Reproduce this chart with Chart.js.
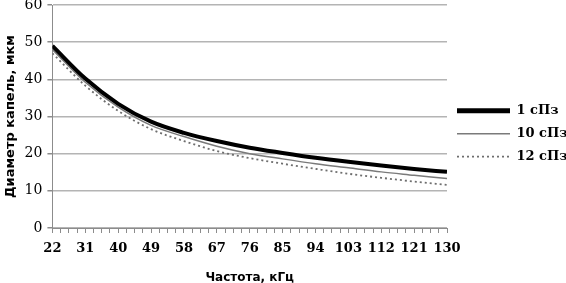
<!DOCTYPE html>
<html>
<head>
<meta charset="utf-8">
<script src="https://cdn.jsdelivr.net/npm/chart.js@4.4.1/dist/chart.umd.min.js"></script>
<style>
  html, body { margin: 0; padding: 0; background: #fff; }
  #wrap { width: 566px; height: 283px; }
</style>
</head>
<body>
<div id="wrap"><canvas id="dropChart"></canvas></div>
<script>
// Frequency, kHz (labelled points on the x axis)
const freqs = [22, 31, 40, 49, 58, 67, 76, 85, 94, 103, 112, 121, 130];

// Droplet diameter, um
const visc1 = [49.0, 40.2, 33.4, 28.6, 25.6, 23.4, 21.6, 20.2, 18.9, 17.8, 16.8, 15.9, 15.1];
const visc10 = [48.0, 39.2, 32.5, 27.6, 24.6, 22.0, 20.0, 18.6, 17.3, 16.2, 15.1, 14.2, 13.3];
const visc12 = [47.0, 38.3, 31.5, 26.6, 23.4, 20.7, 18.8, 17.3, 15.9, 14.6, 13.5, 12.5, 11.6];

const seriesNames = ['1 сПз', '10 сПз', '12 сПз'];

// minor tick marks: 4 per labelled interval, like the original axis
const subTicks = 4;

function toPoints(values) {
    return values.map((v, i) => ({ x: freqs[i], y: v }));
}

const ctx = document.getElementById('dropChart').getContext('2d');

new Chart(ctx, {
    type: 'line',
    data: {
        datasets: [
            {
                label: seriesNames[0],
                data: toPoints(visc1),
                borderColor: '#000000',
                borderWidth: 4,
                pointRadius: 0,
                cubicInterpolationMode: 'monotone'
            },
            {
                label: seriesNames[1],
                data: toPoints(visc10),
                borderColor: '#7a7a7a',
                borderWidth: 1.5,
                pointRadius: 0,
                cubicInterpolationMode: 'monotone'
            },
            {
                label: seriesNames[2],
                data: toPoints(visc12),
                borderColor: '#6e6e6e',
                borderWidth: 1.8,
                borderDash: [2, 3],
                pointRadius: 0,
                cubicInterpolationMode: 'monotone'
            }
        ]
    },
    options: {
        responsive: true,
        maintainAspectRatio: false,
        animation: false,
        layout: { padding: { left: 3, top: 1, right: 0, bottom: 0 } },
        plugins: {
            tooltip: { enabled: false },
            legend: {
                position: 'right',
                fullSize: false,
                maxWidth: 119,
                // empty title only pushes the entries down a bit
                title: {
                    display: true,
                    text: ' ',
                    padding: 10,
                    font: { size: 12 }
                },
                labels: {
                    usePointStyle: true,
                    pointStyle: 'line',
                    pointStyleWidth: 53,
                    color: '#000',
                    padding: 10,
                    font: { family: 'DejaVu Serif', size: 13, weight: 'bold' },
                    // point style loses the dash, so take it from the dataset
                    generateLabels: (chart) => {
                        const items = Chart.defaults.plugins.legend.labels.generateLabels(chart);
                        items.forEach((item) => {
                            const ds = chart.data.datasets[item.datasetIndex];
                            item.lineDash = ds.borderDash || [];
                            item.lineWidth = ds.borderWidth > 3 ? 5 : ds.borderWidth;
                            item.strokeStyle = ds.borderColor;
                        });
                        return items;
                    }
                }
            }
        },
        scales: {
            x: {
                type: 'linear',
                min: freqs[0],
                max: freqs[freqs.length - 1],
                afterBuildTicks: (scale) => {
                    const ticks = [];
                    for (let i = 0; i < freqs.length; i++) {
                        ticks.push({ value: freqs[i] });
                        if (i < freqs.length - 1) {
                            const step = (freqs[i + 1] - freqs[i]) / subTicks;
                            for (let k = 1; k < subTicks; k++) {
                                ticks.push({ value: freqs[i] + k * step });
                            }
                        }
                    }
                    scale.ticks = ticks;
                },
                ticks: {
                    autoSkip: false,
                    maxRotation: 0,
                    color: '#000',
                    padding: 8,
                    font: { family: 'DejaVu Serif', size: 13, weight: 'bold' },
                    callback: (value) => freqs.includes(value) ? value : ''
                },
                grid: {
                    drawOnChartArea: false,
                    drawTicks: true,
                    tickLength: 5,
                    color: '#8c8c8c'
                },
                border: { display: true, color: '#8c8c8c' },
                title: {
                    display: true,
                    text: 'Частота, кГц',
                    color: '#000',
                    padding: { top: 6, bottom: -2 },
                    font: { family: 'DejaVu Sans', size: 12, weight: 'bold' }
                }
            },
            y: {
                min: 0,
                max: 60,
                ticks: {
                    stepSize: 10,
                    color: '#000',
                    padding: 5,
                    // lineHeight 0 keeps the top label from adding space above the plot
                    font: { family: 'DejaVu Serif', size: 14, lineHeight: 0 }
                },
                grid: {
                    color: '#b4b4b4',
                    lineWidth: 1.5,
                    tickLength: 5,
                    tickColor: '#8c8c8c'
                },
                border: { display: true, color: '#8c8c8c' },
                title: {
                    display: true,
                    text: 'Диаметр капель, мкм',
                    color: '#000',
                    padding: { top: 0, bottom: 1 },
                    font: { family: 'DejaVu Sans', size: 13, weight: 'bold' }
                }
            }
        }
    }
});
</script>
</body>
</html>
